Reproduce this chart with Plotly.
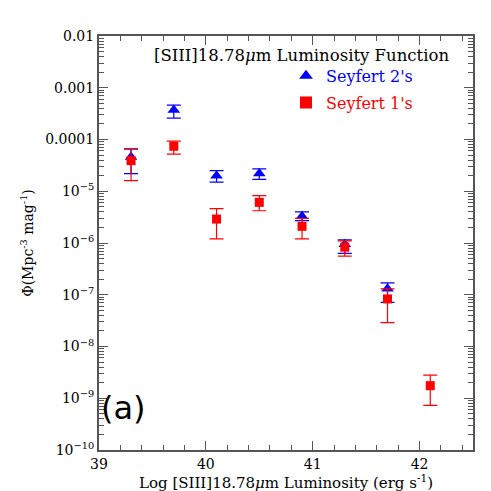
import plotly.graph_objects as go

# Seyfert 2's (blue triangles)
sy2_x = [39.3, 39.7, 40.1, 40.5, 40.9, 41.3, 41.7]
sy2_y = [4.6e-5, 3.7e-4, 2.0e-5, 2.2e-5, 3.3e-6, 9.5e-7, 1.3e-7]
sy2_hi = [6.6e-5, 4.6e-4, 2.5e-5, 2.7e-5, 4.0e-6, 1.15e-6, 1.7e-7]
sy2_lo = [2.2e-5, 2.6e-4, 1.5e-5, 1.7e-5, 2.7e-6, 6.3e-7, 7.1e-8]

# Seyfert 1's (red squares)
sy1_x = [39.3, 39.7, 40.1, 40.5, 40.9, 41.3, 41.7, 42.1]
sy1_y = [3.9e-5, 7.4e-5, 2.9e-6, 6.1e-6, 2.1e-6, 8.3e-7, 8.3e-8, 1.75e-9]
sy1_hi = [6.5e-5, 9.3e-5, 4.6e-6, 8.2e-6, 3.0e-6, 1.1e-6, 1.3e-7, 2.8e-9]
sy1_lo = [1.6e-5, 5.2e-5, 1.2e-6, 4.2e-6, 1.2e-6, 5.6e-7, 2.9e-8, 7.3e-10]

y_tickvals = [1e-2, 1e-3, 1e-4, 1e-5, 1e-6, 1e-7, 1e-8, 1e-9, 1e-10]
y_ticktext = ['0.01', '0.001', '0.0001', '10<sup>−5</sup>', '10<sup>−6</sup>', '10<sup>−7</sup>',
              '10<sup>−8</sup>', '10<sup>−9</sup>', '10<sup>−10</sup>']

FONT = 'DejaVu Serif'
AX = '#555555'

fig = go.Figure()
fig.add_trace(go.Scatter(
    x=sy2_x, y=sy2_y, mode='markers', name="<span style='color:#0000ff'>Seyfert 2's</span>",
    legendgroup='s2',
    marker=dict(symbol='triangle-up', size=11, color='#0000ff'),
    error_y=dict(type='data', symmetric=False,
                 array=[h - v for h, v in zip(sy2_hi, sy2_y)],
                 arrayminus=[v - l for l, v in zip(sy2_lo, sy2_y)],
                 color='#0000ff', thickness=1.2, width=7)))
fig.add_trace(go.Scatter(
    x=sy1_x, y=sy1_y, mode='markers', name="<span style='color:#ff0000'>Seyfert 1's</span>",
    legendgroup='s1',
    marker=dict(symbol='square', size=9, color='#ff0000'),
    error_y=dict(type='data', symmetric=False,
                 array=[h - v for h, v in zip(sy1_hi, sy1_y)],
                 arrayminus=[v - l for l, v in zip(sy1_lo, sy1_y)],
                 color='#ff0000', thickness=1.2, width=7)))

fig.update_xaxes(range=[39, 42.5], tickvals=[39, 40, 41, 42], ticks='inside', ticklen=9,
                 tickcolor=AX, tickwidth=1.2, showline=True, linecolor=AX, linewidth=2,
                 mirror='allticks', showgrid=False, zeroline=False,
                 minor=dict(dtick=0.2, ticks='inside', ticklen=5, tickcolor=AX, showgrid=False),
                 tickfont=dict(family=FONT, size=14, color='black'),
                 title=dict(text='Log [SIII]18.78<i>μ</i>m Luminosity (erg s<sup>-1</sup>)',
                            font=dict(family=FONT, size=15, color='black'), standoff=5))
fig.update_yaxes(type='log', range=[-10, -2], tickmode='array', tickvals=y_tickvals, ticktext=y_ticktext,
                 ticks='inside', ticklen=9, tickcolor=AX, tickwidth=1.2, showline=True, linecolor=AX,
                 linewidth=2, mirror='allticks', showgrid=False, zeroline=False,
                 minor=dict(dtick='D1', ticks='inside', ticklen=5, tickcolor=AX, showgrid=False),
                 tickfont=dict(family=FONT, size=14, color='black'),
                 title=dict(text='Φ(Mpc<sup>-3</sup> mag<sup>-1</sup>)',
                            font=dict(family=FONT, size=14, color='black'), standoff=8))

fig.add_annotation(text='[SIII]18.78<i>μ</i>m Luminosity Function', xref='paper', yref='paper',
                   x=0.94, y=0.952, xanchor='right', yanchor='middle', showarrow=False,
                   font=dict(family=FONT, size=16.5, color='black'))
fig.add_annotation(text='(a)', xref='paper', yref='paper', x=0.0, y=0.05, xanchor='left',
                   yanchor='bottom', showarrow=False,
                   font=dict(family='DejaVu Sans', size=32, color='black'))

fig.update_layout(
    width=491, height=491, plot_bgcolor='white', paper_bgcolor='white',
    margin=dict(l=91, r=26, t=28, b=45),
    legend=dict(x=0.5, y=0.945, xanchor='left', yanchor='top', bgcolor='rgba(0,0,0,0)',
                font=dict(family=FONT, size=16), itemsizing='constant', tracegroupgap=3,
                traceorder='grouped'),
)

fig.write_html('out.html')
